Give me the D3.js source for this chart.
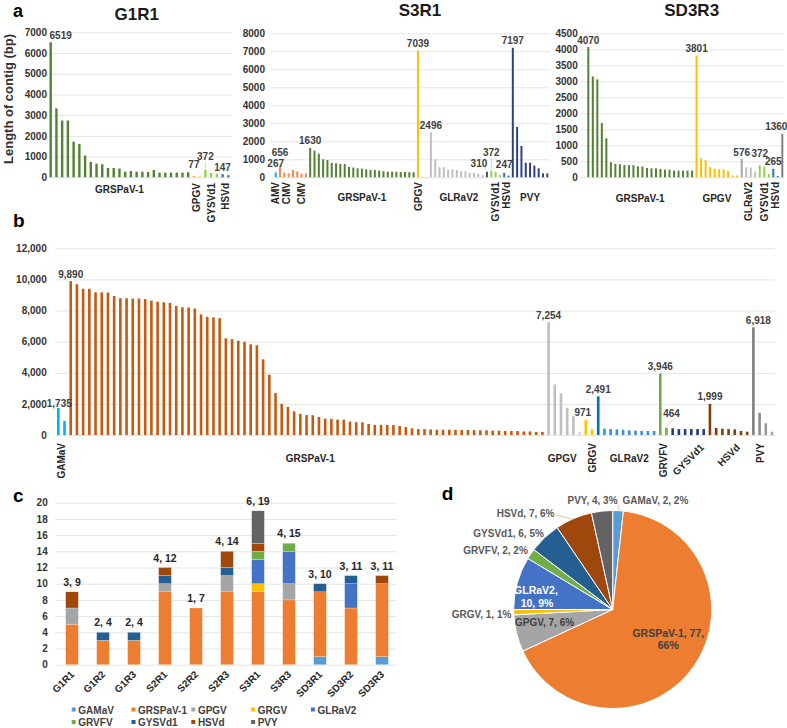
<!DOCTYPE html>
<html><head><meta charset="utf-8">
<script src="https://cdn.jsdelivr.net/npm/d3@7"></script>
<style>
html,body{margin:0;padding:0;background:#fff;}
svg{display:block;}
</style></head><body>
<script>
// ===================== DATA =====================
// Panel a — G1R1 (contig lengths, bp)
const g1r1_GRSPaV1 = [6519,3330,2740,2740,1720,1610,1050,740,660,630,450,450,420,270,300,270,270,260,350,225,225,225,225,225,240];
const g1r1_GPGV = [77,40];
const g1r1_GYSVd1 = [372,210,170];
const g1r1_HSVd = [147,100];
// Panel a — S3R1
const s3r1_AMV = [267];
const s3r1_CMV1 = [656,260,220,410];
const s3r1_CMV2 = [330,200,220];
const s3r1_GRSPaV1 = [1630,1480,1310,1000,960,800,780,740,740,570,540,500,480,440,410,410,370,330,310,310,310,300,300,280,280];
const s3r1_GPGV = [7039,30,20];
const s3r1_GLRaV2 = [2496,1000,560,560,410,440,410,330,330,260,260,200,130,310];
const s3r1_GYSVd1 = [372,300,120];
const s3r1_HSVd = [247,90];
const s3r1_PVY = [7197,2800,1740,810,810,650,500,220,220];
// Panel a — SD3R3
const sd3r3_GRSPaV1 = [4070,3150,3060,1700,1220,470,420,410,380,380,380,340,340,290,280,280,260,240,240,210,210,210,210,210];
const sd3r3_GPGV = [3801,590,540,320,270,250,250,200,60,60];
const sd3r3_GLRaV2 = [576,310,310,180];
const sd3r3_GYSVd1 = [372,330,100];
const sd3r3_HSVd = [265,40];
const sd3r3_PVY = [1360];
// Panel b — all contigs
const b_GAMaV = [1735,900];
const b_GRSPaV1 = [9890,9690,9400,9400,9170,9170,9160,8940,8790,8790,
  8770,8770,8740,8640,8570,8530,8490,8290,8210,8190,
  8130,7750,7600,7560,7510,6210,6160,6060,5990,5830,
  5770,4860,3880,2700,2000,1810,1520,1360,1280,1270,
  1160,1050,1040,990,985,860,820,815,710,650,
  650,645,640,580,510,430,380,380,360,340,
  340,340,335,320,320,315,300,300,280,280,
  260,260,255,230,230,200,200];
const b_GPGV = [7254,3250,2670,1750,1200,210,971];
const b_GRGV = [360];
const b_GLRaV2 = [2491,410,380,360,340,300,280,260,260,260];
const b_GRVFV = [3946,464];
const b_GYSVd1 = [430,380,380,380,380,380];
const b_HSVd = [1999,450,410,380,360,260,210];
const b_PVY = [6918,1430,750,210];
// Panel c — contig counts per sample
const cSamples = ["G1R1","G1R2","G1R3","S2R1","S2R2","S2R3","S3R1","S3R3","SD3R1","SD3R2","SD3R3"];
const cViruses = ["GAMaV","GRSPaV-1","GPGV","GRGV","GLRaV2","GRVFV","GYSVd1","HSVd","PVY"];
const c_GAMaV   = [0,0,0,0,0,0,0,0,1,0,1];
const c_GRSPaV1 = [5,3,3,9,7,9,9,8,8,7,9];
const c_GPGV    = [2,0,0,1,0,2,0,2,0,0,0];
const c_GRGV    = [0,0,0,0,0,0,1,0,0,0,0];
const c_GLRaV2  = [0,0,0,0,0,0,3,4,0,3,0];
const c_GRVFV   = [0,0,0,0,0,0,1,1,0,0,0];
const c_GYSVd1  = [0,1,1,1,0,1,0,0,1,1,0];
const c_HSVd    = [2,0,0,1,0,2,1,0,0,0,1];
const c_PVY     = [0,0,0,0,0,0,4,0,0,0,0];
const cSeries = [c_GAMaV,c_GRSPaV1,c_GPGV,c_GRGV,c_GLRaV2,c_GRVFV,c_GYSVd1,c_HSVd,c_PVY];
// Panel d — totals per virus
const dCounts = [2,77,7,1,10,2,6,7,4];

// ===================== STYLE =====================
const FONT = '"Liberation Sans", Arial, sans-serif';
const officeColors = ["#5B9BD5","#ED7D31","#A5A5A5","#FFC000","#4472C4","#70AD47","#255E91","#9E480E","#636363"];
const aGreen="#548235", aYellow="#FFC000", aLime="#92D050", aBlue="#2E75B6", aGrey="#BFBFBF";

const svg = d3.select("body").append("svg").attr("width",787).attr("height",728)
  .style("font-family",FONT);

function txt(x,y,s,size,opts={}){
  return svg.append("text").attr("x",x).attr("y",y).text(s)
    .attr("font-size",size).attr("font-weight",opts.weight||"bold")
    .attr("fill",opts.fill||"#333").attr("text-anchor",opts.anchor||"start")
    .attr("font-family",FONT);
}

function barPanel(opt){
  const bars=[], info=[];
  opt.groups.forEach(g=>{
    const start=bars.length;
    g.values.forEach((v,k)=>bars.push({v, color: typeof g.color==="function"? g.color(k): g.color}));
    info.push({g,start,end:bars.length-1});
  });
  const n=bars.length, step=(opt.x1-opt.x0)/(n-1);
  const x=d3.scaleBand().domain(d3.range(n)).range([opt.x0-step/2,opt.x1+step/2]).padding(0);
  const cx=i=>x(i)+x.bandwidth()/2;
  const y=d3.scaleLinear().domain(opt.yDomain).range(opt.yRange);
  const ga=svg.append("g").attr("transform",`translate(${opt.gridX0},0)`)
    .call(d3.axisLeft(y).tickValues(opt.ticks).tickFormat(opt.fmt)
      .tickSize(-(opt.gridX1-opt.gridX0)).tickPadding(opt.gridX0-opt.tickRight));
  ga.select(".domain").remove();
  ga.selectAll(".tick line").attr("stroke","#E4E4E4");
  ga.selectAll(".tick text").attr("font-size",10).attr("font-weight","bold")
    .attr("fill","#333").attr("font-family",FONT);
  svg.append("g").selectAll("rect").data(bars).join("rect")
    .attr("x",(d,i)=>cx(i)-opt.barW/2).attr("width",opt.barW)
    .attr("y",d=>y(d.v)).attr("height",d=>y(0)-y(d.v)).attr("fill",d=>d.color);
  info.forEach(({g,start,end})=>{
    if(!g.name) return;
    const c=(cx(start)+cx(end))/2+(g.shift||0)*step;
    const t=svg.append("text").text(g.name).attr("font-size",10).attr("font-weight","bold")
      .attr("fill","#262626").attr("font-family",FONT);
    if(g.rot===0){ t.attr("x",c).attr("y",opt.catY).attr("text-anchor","middle"); }
    else if(g.rot===-90){ t.attr("text-anchor","end").attr("transform",`translate(${c+3.6},${opt.rotTop}) rotate(-90)`); }
    else { const L=t.node().getComputedTextLength(), capH=7.2;
      t.attr("text-anchor","end").attr("transform",`translate(${c+0.3535*(L+capH)},${opt.rotTop+0.707*capH}) rotate(-45)`); }
  });
  (opt.labels||[]).forEach(l=>{
    const d=bars[l.i];
    const tx=cx(l.i)+(l.dx||0), ty=y(d.v)-3.5+(l.dy||0);
    txt(tx,ty,opt.lfmt(d.v),10,{anchor:"middle",fill:"#404040"});
    if(l.lead){
      svg.append("line").attr("x1",tx+l.lead[0]).attr("y1",ty+l.lead[1])
        .attr("x2",cx(l.i)).attr("y2",y(d.v)-1).attr("stroke","#C8C8C8").attr("stroke-width",0.8);
    }
  });
  return {x,y,cx};
}

// ===================== PANEL a =====================
txt(13,17,"a",18,{fill:"#000"});
txt(136.7,20,"G1R1",17,{anchor:"middle",fill:"#1a1a1a"});
txt(420,16,"S3R1",17,{anchor:"middle",fill:"#1a1a1a"});
txt(691.7,16,"SD3R3",17,{anchor:"middle",fill:"#1a1a1a"});
svg.append("text").text("Length of contig (bp)").attr("font-size",13).attr("font-weight","bold")
  .attr("fill","#333").attr("text-anchor","middle").attr("font-family",FONT)
  .attr("transform","translate(13,99) rotate(-90)");

const plain=d3.format("d");
barPanel({
  groups:[
    {name:"GRSPaV-1",values:g1r1_GRSPaV1,color:aGreen,rot:0},
    {name:"GPGV",values:g1r1_GPGV,color:aYellow,rot:-90},
    {name:"GYSVd1",values:g1r1_GYSVd1,color:aLime,rot:-90},
    {name:"HSVd",values:g1r1_HSVd,color:aBlue,rot:-90}],
  x0:50.7,x1:228.3,yDomain:[0,7000],yRange:[177.3,32.3],ticks:d3.range(0,7001,1000),fmt:plain,
  tickRight:47,gridX0:50,gridX1:232,barW:2.4,catY:192.5,rotTop:183,lfmt:plain,
  labels:[{i:0,dx:10},{i:25,dy:-4},{i:27,dy:-6,lead:[0,2]},{i:30}]
});
barPanel({
  groups:[
    {name:"AMV",values:s3r1_AMV,color:"#00B0F0",rot:-90},
    {name:"CMV",values:s3r1_CMV1,color:"#F4894A",rot:-90},
    {name:"CMV",values:s3r1_CMV2,color:"#F4894A",rot:-90},
    {name:"GRSPaV-1",values:s3r1_GRSPaV1,color:aGreen,rot:0},
    {name:"GPGV",values:s3r1_GPGV,color:aYellow,rot:-90,shift:-1},
    {name:"GLRaV2",values:s3r1_GLRaV2,color:k=>k===13?"#44546A":aGrey,rot:0},
    {name:"GYSVd1",values:s3r1_GYSVd1,color:aLime,rot:-90},
    {name:"HSVd",values:s3r1_HSVd,color:aBlue,rot:-90},
    {name:"PVY",values:s3r1_PVY,color:"#2E4384",rot:0}],
  x0:275.7,x1:547.3,yDomain:[0,8000],yRange:[177.3,33.3],ticks:d3.range(0,8001,1000),fmt:plain,
  tickRight:265,gridX0:271,gridX1:550,barW:2,catY:201,rotTop:182,lfmt:plain,
  labels:[{i:0,dy:-2},{i:1,dy:-6},{i:8},{i:33},{i:36},{i:49,dx:-8,dy:-1.5,lead:[6,1]},{i:50,dy:-11.5,lead:[0,2]},{i:53,dy:-1},{i:55}]
});
barPanel({
  groups:[
    {name:"GRSPaV-1",values:sd3r3_GRSPaV1,color:aGreen,rot:0},
    {name:"GPGV",values:sd3r3_GPGV,color:aYellow,rot:0},
    {name:"GLRaV2",values:sd3r3_GLRaV2,color:k=>k===0?"#A6A6A6":aGrey,rot:-90},
    {name:"GYSVd1",values:sd3r3_GYSVd1,color:aLime,rot:-90},
    {name:"HSVd",values:sd3r3_HSVd,color:aBlue,rot:-90},
    {name:null,values:sd3r3_PVY,color:"#808080"}],
  x0:588.3,x1:782.3,yDomain:[0,4500],yRange:[177.3,33.3],ticks:d3.range(0,4501,500),fmt:plain,
  tickRight:577.7,gridX0:581,gridX1:784,barW:2,catY:202,rotTop:182,lfmt:plain,
  labels:[{i:0},{i:24},{i:34,dy:1},{i:38,dy:-5},{i:41},{i:43,dx:-6}]
});

// ===================== PANEL b =====================
txt(13,227,"b",19,{fill:"#000"});
const comma=d3.format(",");
barPanel({
  groups:[
    {name:"GAMaV",values:b_GAMaV,color:"#00B0F0",rot:-90},
    {name:"GRSPaV-1",values:b_GRSPaV1,color:"#C55A11",rot:0,shift:0.6},
    {name:"GPGV",values:b_GPGV,color:k=>k===6?"#FFC000":(k===5?"#D9D9D9":"#BFBFBF"),rot:0,shift:-0.8},
    {name:"GRGV",values:b_GRGV,color:"#FFC000",rot:-90},
    {name:"GLRaV2",values:b_GLRaV2,color:k=>k===0?"#0070C0":"#3B8ED8",rot:0,shift:0.5},
    {name:"GRVFV",values:b_GRVFV,color:"#70AD47",rot:-90},
    {name:"GYSVd1",values:b_GYSVd1,color:"#203F7A",rot:-45},
    {name:"HSVd",values:b_HSVd,color:"#843C0C",rot:-45},
    {name:"PVY",values:b_PVY,color:k=>["#7F7F7F","#8C8C8C","#999999","#A6A6A6"][k],rot:-90,shift:-0.4}],
  x0:58.3,x1:772,yDomain:[0,12000],yRange:[435,248.3],ticks:d3.range(0,12001,2000),fmt:comma,
  tickRight:46.7,gridX0:55,gridX1:775,barW:2.6,catY:462,rotTop:443,lfmt:comma,
  labels:[{i:0,dx:1,dy:2},{i:2},{i:79},{i:85,dx:-3},{i:87},{i:97},{i:98,dx:5,dy:-7,lead:[2,2]},{i:105},{i:112,dx:5}]
});

// ===================== PANEL c =====================
txt(13,502,"c",19,{fill:"#000"});
(function(){
  const x=d3.scaleBand().domain(cSamples).range([56.5,397.5]).paddingInner(0.59).paddingOuter(0.295);
  const y=d3.scaleLinear().domain([0,20]).range([664.7,502.7]);
  const ga=svg.append("g").attr("transform","translate(55,0)")
    .call(d3.axisLeft(y).tickValues(d3.range(0,21,2)).tickSize(-341.7).tickPadding(7.3));
  ga.select(".domain").remove();
  ga.selectAll(".tick line").attr("stroke","#E4E4E4");
  ga.selectAll(".tick text").attr("font-size",10).attr("font-weight","bold").attr("fill","#333").attr("font-family",FONT);
  const rows=cSamples.map((s,j)=>{const o={sample:s}; cViruses.forEach((v,i)=>o[v]=cSeries[i][j]); return o;});
  const stack=d3.stack().keys(cViruses)(rows);
  svg.append("g").selectAll("g").data(stack).join("g").attr("fill",(d,i)=>officeColors[i])
    .selectAll("rect").data(d=>d).join("rect")
    .attr("x",d=>x(d.data.sample)).attr("width",x.bandwidth())
    .attr("y",d=>y(d[1])).attr("height",d=>y(d[0])-y(d[1]))
    .attr("stroke","#fff").attr("stroke-width",0.4).attr("stroke-opacity",0.6);
  rows.forEach((r,j)=>{
    const tot=d3.sum(cViruses,v=>r[v]), nv=cViruses.filter(v=>r[v]>0).length;
    txt(x(r.sample)+x.bandwidth()/2,y(tot)-6,`${nv}, ${tot}`,10.5,{anchor:"middle",fill:"#262626"});
  });
  cSamples.forEach(s=>{
    svg.append("text").text(s).attr("font-size",10).attr("font-weight","bold").attr("fill","#262626")
      .attr("font-family",FONT).attr("text-anchor","end")
      .attr("transform",`translate(${x(s)+x.bandwidth()/2+3},${675}) rotate(-45)`);
  });
  // legend
  cViruses.forEach((v,i)=>{
    const col=i%5,row=Math.floor(i/5);
    const lx=71.7+59.8*col, ly=713.5+12.5*row;
    svg.append("rect").attr("x",lx).attr("y",ly-6).attr("width",4).attr("height",4).attr("fill",officeColors[i]);
    txt(lx+6.6,ly,v,10,{fill:"#404040"});
  });
})();

// ===================== PANEL d =====================
txt(441.7,500,"d",19,{fill:"#000"});
(function(){
  const total=d3.sum(dCounts);
  const pie=d3.pie().sort(null).value(d=>d)(dCounts);
  const arc=d3.arc().innerRadius(0).outerRadius(99);
  const g=svg.append("g").attr("transform","translate(612.7,609.5)");
  g.selectAll("path").data(pie).join("path").attr("d",arc)
    .attr("fill",(d,i)=>officeColors[i]).attr("stroke","#fff").attr("stroke-width",1);
  const pct=i=>Math.round(dCounts[i]/total*100)+"%";
  const lab=i=>`${cViruses[i]}, ${dCounts[i]}, ${pct(i)}`;
  // label layout
  const outside={0:[622.5,504],8:[567.5,504],7:[496.7,516.5],6:[473.3,536.5],5:[463.3,554],3:[451.7,617.5]};
  Object.entries(outside).forEach(([i,p])=>txt(p[0],p[1],lab(+i),10,{fill:"#595959"}));
  txt(515,626,lab(2),10,{fill:"#404040"});
  txt(536,594,`${cViruses[4]},`,10.5,{anchor:"middle",fill:"#fff"});
  txt(537,606.5,`${dCounts[4]}, ${pct(4)}`,10.5,{anchor:"middle",fill:"#fff"});
  txt(668.3,636.7,`${cViruses[1]}, ${dCounts[1]},`,10.5,{anchor:"middle",fill:"#404040"});
  txt(668.3,649,pct(1),10.5,{anchor:"middle",fill:"#404040"});
  // leader lines
  const lead=(x1,y1,x2,y2)=>svg.append("line").attr("x1",x1).attr("y1",y1).attr("x2",x2).attr("y2",y2)
    .attr("stroke","#BFBFBF").attr("stroke-width",0.8);
  lead(552,514,573,519.5);
  lead(618.5,505,619.3,511.5);
})();
</script>
</body></html>
